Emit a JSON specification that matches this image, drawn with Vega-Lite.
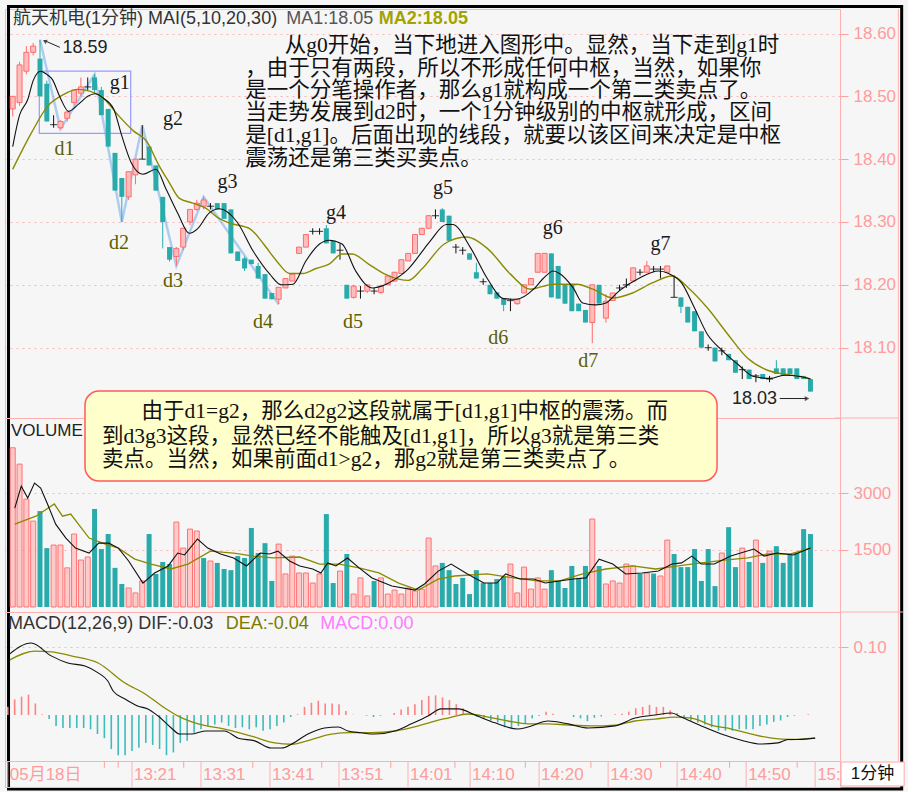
{
"$schema": "https://vega.github.io/schema/vega-lite/v6.json",
"padding": {"left": 4, "top": 4, "right": 2, "bottom": 2},
"background": "#f6f6f6",
"spacing": 0,
"bounds": "flush",
"config": {
  "view": {"stroke": "#ffb0b0", "strokeWidth": 1},
  "concat": {"spacing": 0},
  "axis": {"labelFont": "Liberation Sans", "labelFontSize": 17, "labelColor": "#ff9c9c", "tickColor": "#ffa0a0", "tickSize": 8, "labelPadding": 5, "domain": false, "gridColor": "#ffb4b4", "gridDash": [2, 4], "gridWidth": 1}
},
"datasets": {
"candles": [
{"i":0,"o":18.48,"h":18.5,"l":18.468,"c":18.5,"d":"up","v":4190,"vd":"up","m":0.012},
{"i":1,"o":18.49,"h":18.555,"l":18.485,"c":18.55,"d":"up","v":3760,"vd":"up","m":0.023},
{"i":2,"o":18.54,"h":18.58,"l":18.535,"c":18.57,"d":"up","v":2840,"vd":"up","m":0.027},
{"i":3,"o":18.57,"h":18.585,"l":18.565,"c":18.58,"d":"up","v":2260,"vd":"up","m":0.03},
{"i":4,"o":18.56,"h":18.59,"l":18.5,"c":18.5,"d":"down","v":2525,"vd":"down","m":0.017},
{"i":5,"o":18.52,"h":18.525,"l":18.46,"c":18.46,"d":"down","v":1550,"vd":"down","m":0.001},
{"i":6,"o":18.455,"h":18.47,"l":18.45,"c":18.455,"d":"flat","v":1630,"vd":"up","m":-0.006},
{"i":7,"o":18.45,"h":18.462,"l":18.448,"c":18.46,"d":"up","v":1630,"vd":"up","m":-0.016},
{"i":8,"o":18.465,"h":18.478,"l":18.46,"c":18.475,"d":"up","v":1030,"vd":"up","m":-0.019},
{"i":9,"o":18.49,"h":18.51,"l":18.485,"c":18.51,"d":"up","v":1920,"vd":"up","m":-0.019},
{"i":10,"o":18.505,"h":18.53,"l":18.5,"c":18.515,"d":"up","v":1235,"vd":"up","m":-0.019},
{"i":11,"o":18.515,"h":18.53,"l":18.51,"c":18.515,"d":"flat","v":1315,"vd":"up","m":-0.019},
{"i":12,"o":18.53,"h":18.535,"l":18.505,"c":18.51,"d":"down","v":2580,"vd":"down","m":-0.021},
{"i":13,"o":18.51,"h":18.515,"l":18.47,"c":18.47,"d":"down","v":1525,"vd":"down","m":-0.028},
{"i":14,"o":18.48,"h":18.48,"l":18.42,"c":18.42,"d":"down","v":1920,"vd":"down","m":-0.034},
{"i":15,"o":18.41,"h":18.41,"l":18.35,"c":18.35,"d":"down","v":1030,"vd":"down","m":-0.05},
{"i":16,"o":18.37,"h":18.37,"l":18.3,"c":18.34,"d":"down","v":605,"vd":"down","m":-0.059},
{"i":17,"o":18.34,"h":18.38,"l":18.335,"c":18.38,"d":"up","v":500,"vd":"up","m":-0.059},
{"i":18,"o":18.375,"h":18.4,"l":18.36,"c":18.4,"d":"up","v":370,"vd":"up","m":-0.053},
{"i":19,"o":18.4,"h":18.454,"l":18.4,"c":18.4,"d":"flat","v":685,"vd":"up","m":-0.048},
{"i":20,"o":18.42,"h":18.42,"l":18.39,"c":18.39,"d":"down","v":1920,"vd":"down","m":-0.041},
{"i":21,"o":18.39,"h":18.39,"l":18.35,"c":18.35,"d":"down","v":870,"vd":"down","m":-0.044},
{"i":22,"o":18.34,"h":18.34,"l":18.258,"c":18.3,"d":"down","v":1185,"vd":"down","m":-0.05},
{"i":23,"o":18.26,"h":18.26,"l":18.237,"c":18.24,"d":"down","v":1130,"vd":"down","m":-0.059},
{"i":24,"o":18.245,"h":18.26,"l":18.23,"c":18.258,"d":"up","v":2235,"vd":"up","m":-0.055},
{"i":25,"o":18.26,"h":18.29,"l":18.255,"c":18.29,"d":"up","v":1550,"vd":"up","m":-0.041},
{"i":26,"o":18.3,"h":18.32,"l":18.295,"c":18.32,"d":"up","v":2050,"vd":"up","m":-0.038},
{"i":27,"o":18.32,"h":18.335,"l":18.318,"c":18.33,"d":"up","v":2000,"vd":"up","m":-0.026},
{"i":28,"o":18.325,"h":18.34,"l":18.32,"c":18.335,"d":"up","v":1290,"vd":"down","m":-0.021},
{"i":29,"o":18.325,"h":18.33,"l":18.32,"c":18.325,"d":"flat","v":1210,"vd":"up","m":-0.016},
{"i":30,"o":18.33,"h":18.33,"l":18.32,"c":18.32,"d":"down","v":1160,"vd":"down","m":-0.014},
{"i":31,"o":18.33,"h":18.33,"l":18.305,"c":18.305,"d":"down","v":1000,"vd":"down","m":-0.011},
{"i":32,"o":18.32,"h":18.32,"l":18.25,"c":18.25,"d":"down","v":970,"vd":"down","m":-0.016},
{"i":33,"o":18.253,"h":18.253,"l":18.238,"c":18.238,"d":"down","v":1340,"vd":"down","m":-0.019},
{"i":34,"o":18.242,"h":18.245,"l":18.222,"c":18.226,"d":"down","v":1290,"vd":"down","m":-0.018},
{"i":35,"o":18.24,"h":18.24,"l":18.233,"c":18.233,"d":"down","v":2080,"vd":"down","m":-0.021},
{"i":36,"o":18.23,"h":18.235,"l":18.21,"c":18.21,"d":"down","v":1420,"vd":"down","m":-0.018},
{"i":37,"o":18.217,"h":18.217,"l":18.178,"c":18.178,"d":"down","v":1680,"vd":"down","m":-0.023},
{"i":38,"o":18.187,"h":18.187,"l":18.177,"c":18.177,"d":"down","v":685,"vd":"down","m":-0.021},
{"i":39,"o":18.177,"h":18.196,"l":18.169,"c":18.196,"d":"up","v":1655,"vd":"up","m":-0.016},
{"i":40,"o":18.195,"h":18.21,"l":18.195,"c":18.21,"d":"up","v":870,"vd":"up","m":-0.011},
{"i":41,"o":18.206,"h":18.217,"l":18.206,"c":18.217,"d":"up","v":1340,"vd":"up","m":-0.003},
{"i":42,"o":18.25,"h":18.26,"l":18.25,"c":18.26,"d":"up","v":895,"vd":"up","m":0.001},
{"i":43,"o":18.26,"h":18.28,"l":18.26,"c":18.28,"d":"up","v":895,"vd":"up","m":0.012},
{"i":44,"o":18.285,"h":18.29,"l":18.28,"c":18.285,"d":"flat","v":630,"vd":"up","m":0.018},
{"i":45,"o":18.285,"h":18.29,"l":18.28,"c":18.285,"d":"flat","v":870,"vd":"up","m":0.021},
{"i":46,"o":18.29,"h":18.295,"l":18.266,"c":18.266,"d":"down","v":2445,"vd":"down","m":0.017},
{"i":47,"o":18.27,"h":18.27,"l":18.25,"c":18.25,"d":"down","v":630,"vd":"down","m":0.017},
{"i":48,"o":18.255,"h":18.265,"l":18.24,"c":18.255,"d":"flat","v":945,"vd":"up","m":0.016},
{"i":49,"o":18.2,"h":18.2,"l":18.178,"c":18.178,"d":"down","v":1395,"vd":"down","m":0.006},
{"i":50,"o":18.18,"h":18.2,"l":18.178,"c":18.198,"d":"up","v":340,"vd":"up","m":0.0005},
{"i":51,"o":18.19,"h":18.198,"l":18.178,"c":18.19,"d":"flat","v":765,"vd":"up","m":0},
{"i":52,"o":18.19,"h":18.2,"l":18.187,"c":18.2,"d":"up","v":290,"vd":"up","m":-0.001},
{"i":53,"o":18.19,"h":18.195,"l":18.185,"c":18.19,"d":"flat","v":685,"vd":"down","m":-0.003},
{"i":54,"o":18.188,"h":18.2,"l":18.185,"c":18.198,"d":"up","v":765,"vd":"up","m":-0.001},
{"i":55,"o":18.2,"h":18.214,"l":18.2,"c":18.214,"d":"up","v":340,"vd":"up","m":0},
{"i":56,"o":18.206,"h":18.22,"l":18.205,"c":18.22,"d":"up","v":445,"vd":"up","m":0.003},
{"i":57,"o":18.218,"h":18.24,"l":18.218,"c":18.24,"d":"up","v":340,"vd":"up","m":0.008},
{"i":58,"o":18.238,"h":18.25,"l":18.238,"c":18.25,"d":"up","v":500,"vd":"up","m":0.012},
{"i":59,"o":18.25,"h":18.28,"l":18.25,"c":18.28,"d":"up","v":420,"vd":"up","m":0.016},
{"i":60,"o":18.28,"h":18.29,"l":18.28,"c":18.29,"d":"up","v":470,"vd":"up","m":0.022},
{"i":61,"o":18.29,"h":18.31,"l":18.29,"c":18.31,"d":"up","v":1815,"vd":"up","m":0.028},
{"i":62,"o":18.31,"h":18.32,"l":18.305,"c":18.31,"d":"flat","v":1080,"vd":"up","m":0.029},
{"i":63,"o":18.32,"h":18.322,"l":18.3,"c":18.3,"d":"down","v":1160,"vd":"down","m":0.026},
{"i":64,"o":18.31,"h":18.31,"l":18.27,"c":18.27,"d":"down","v":970,"vd":"down","m":0.022},
{"i":65,"o":18.26,"h":18.265,"l":18.25,"c":18.26,"d":"flat","v":605,"vd":"down","m":0.016},
{"i":66,"o":18.255,"h":18.26,"l":18.248,"c":18.255,"d":"flat","v":765,"vd":"down","m":0.01},
{"i":67,"o":18.25,"h":18.25,"l":18.24,"c":18.24,"d":"down","v":340,"vd":"down","m":0.003},
{"i":68,"o":18.22,"h":18.235,"l":18.21,"c":18.21,"d":"down","v":970,"vd":"down","m":-0.003},
{"i":69,"o":18.205,"h":18.21,"l":18.2,"c":18.205,"d":"flat","v":630,"vd":"down","m":-0.005},
{"i":70,"o":18.2,"h":18.2,"l":18.185,"c":18.185,"d":"down","v":630,"vd":"down","m":-0.008},
{"i":71,"o":18.188,"h":18.188,"l":18.178,"c":18.178,"d":"down","v":735,"vd":"down","m":-0.011},
{"i":72,"o":18.178,"h":18.178,"l":18.158,"c":18.168,"d":"down","v":815,"vd":"down","m":-0.018},
{"i":73,"o":18.175,"h":18.178,"l":18.158,"c":18.175,"d":"flat","v":1130,"vd":"up","m":-0.02},
{"i":74,"o":18.17,"h":18.177,"l":18.168,"c":18.177,"d":"up","v":370,"vd":"up","m":-0.016},
{"i":75,"o":18.187,"h":18.2,"l":18.187,"c":18.2,"d":"up","v":1050,"vd":"up","m":-0.013},
{"i":76,"o":18.2,"h":18.21,"l":18.2,"c":18.21,"d":"up","v":470,"vd":"up","m":-0.005},
{"i":77,"o":18.22,"h":18.25,"l":18.22,"c":18.25,"d":"up","v":765,"vd":"up","m":-0.001},
{"i":78,"o":18.22,"h":18.25,"l":18.22,"c":18.25,"d":"up","v":470,"vd":"up","m":0.005},
{"i":79,"o":18.25,"h":18.25,"l":18.18,"c":18.18,"d":"down","v":970,"vd":"down","m":0.002},
{"i":80,"o":18.23,"h":18.23,"l":18.178,"c":18.178,"d":"down","v":685,"vd":"down","m":0},
{"i":81,"o":18.2,"h":18.2,"l":18.17,"c":18.17,"d":"down","v":500,"vd":"down","m":0},
{"i":82,"o":18.2,"h":18.2,"l":18.158,"c":18.158,"d":"down","v":1080,"vd":"down","m":-0.003},
{"i":83,"o":18.17,"h":18.17,"l":18.158,"c":18.158,"d":"down","v":765,"vd":"down","m":-0.005},
{"i":84,"o":18.16,"h":18.16,"l":18.14,"c":18.14,"d":"down","v":1080,"vd":"down","m":-0.009},
{"i":85,"o":18.14,"h":18.2,"l":18.107,"c":18.2,"d":"up","v":2315,"vd":"up","m":-0.004},
{"i":86,"o":18.2,"h":18.2,"l":18.17,"c":18.17,"d":"down","v":1080,"vd":"down","m":-0.002},
{"i":87,"o":18.147,"h":18.185,"l":18.14,"c":18.174,"d":"up","v":605,"vd":"up","m":0},
{"i":88,"o":18.175,"h":18.187,"l":18.175,"c":18.187,"d":"up","v":685,"vd":"up","m":0.001},
{"i":89,"o":18.195,"h":18.2,"l":18.19,"c":18.195,"d":"flat","v":630,"vd":"up","m":0.002},
{"i":90,"o":18.2,"h":18.21,"l":18.195,"c":18.2,"d":"flat","v":1130,"vd":"up","m":0.005},
{"i":91,"o":18.206,"h":18.227,"l":18.206,"c":18.227,"d":"up","v":1080,"vd":"up","m":0.01},
{"i":92,"o":18.22,"h":18.225,"l":18.215,"c":18.22,"d":"flat","v":870,"vd":"down","m":0.012},
{"i":93,"o":18.22,"h":18.238,"l":18.22,"c":18.23,"d":"up","v":895,"vd":"up","m":0.015},
{"i":94,"o":18.225,"h":18.23,"l":18.22,"c":18.225,"d":"flat","v":880,"vd":"down","m":0.012},
{"i":95,"o":18.225,"h":18.23,"l":18.21,"c":18.225,"d":"flat","v":815,"vd":"up","m":0.012},
{"i":96,"o":18.22,"h":18.23,"l":18.22,"c":18.23,"d":"up","v":1760,"vd":"up","m":0.007},
{"i":97,"o":18.18,"h":18.215,"l":18.18,"c":18.18,"d":"flat","v":1395,"vd":"down","m":0.003},
{"i":98,"o":18.18,"h":18.18,"l":18.155,"c":18.165,"d":"down","v":1050,"vd":"down","m":-0.005},
{"i":99,"o":18.165,"h":18.165,"l":18.14,"c":18.14,"d":"down","v":1050,"vd":"down","m":-0.008},
{"i":100,"o":18.158,"h":18.158,"l":18.126,"c":18.126,"d":"down","v":1525,"vd":"down","m":-0.011},
{"i":101,"o":18.126,"h":18.126,"l":18.1,"c":18.1,"d":"down","v":685,"vd":"down","m":-0.014},
{"i":102,"o":18.1,"h":18.105,"l":18.095,"c":18.1,"d":"flat","v":1525,"vd":"down","m":-0.018},
{"i":103,"o":18.1,"h":18.1,"l":18.078,"c":18.078,"d":"down","v":550,"vd":"down","m":-0.023},
{"i":104,"o":18.095,"h":18.1,"l":18.088,"c":18.095,"d":"flat","v":1420,"vd":"up","m":-0.023},
{"i":105,"o":18.09,"h":18.09,"l":18.08,"c":18.08,"d":"down","v":2100,"vd":"down","m":-0.023},
{"i":106,"o":18.08,"h":18.08,"l":18.06,"c":18.06,"d":"down","v":1050,"vd":"down","m":-0.021},
{"i":107,"o":18.065,"h":18.07,"l":18.05,"c":18.065,"d":"flat","v":1550,"vd":"up","m":-0.021},
{"i":108,"o":18.065,"h":18.065,"l":18.05,"c":18.05,"d":"down","v":1185,"vd":"down","m":-0.021},
{"i":109,"o":18.055,"h":18.058,"l":18.045,"c":18.055,"d":"flat","v":1760,"vd":"up","m":-0.016},
{"i":110,"o":18.058,"h":18.058,"l":18.05,"c":18.05,"d":"down","v":1160,"vd":"down","m":-0.014},
{"i":111,"o":18.05,"h":18.055,"l":18.045,"c":18.05,"d":"flat","v":1470,"vd":"up","m":-0.01},
{"i":112,"o":18.067,"h":18.08,"l":18.058,"c":18.058,"d":"down","v":1600,"vd":"down","m":-0.008},
{"i":113,"o":18.067,"h":18.067,"l":18.055,"c":18.055,"d":"down","v":1160,"vd":"down","m":-0.003},
{"i":114,"o":18.067,"h":18.067,"l":18.058,"c":18.058,"d":"down","v":1395,"vd":"down","m":-0.001},
{"i":115,"o":18.067,"h":18.067,"l":18.05,"c":18.05,"d":"down","v":1420,"vd":"down","m":0},
{"i":116,"o":18.055,"h":18.055,"l":18.05,"c":18.05,"d":"down","v":2050,"vd":"down","m":0.001},
{"i":117,"o":18.05,"h":18.05,"l":18.03,"c":18.03,"d":"down","v":1920,"vd":"down","m":0}
],
"ma1": [
{"i":0,"p":18.42},{"i":1,"p":18.47},{"i":2.2,"p":18.495},{"i":3,"p":18.525},{"i":4.1,"p":18.54},{"i":5,"p":18.535},{"i":5.8,"p":18.527},{"i":7,"p":18.497},{"i":8.2,"p":18.476},{"i":9.7,"p":18.488},{"i":11,"p":18.5},{"i":12.1,"p":18.504},{"i":13.3,"p":18.497},{"i":14.8,"p":18.48},{"i":16,"p":18.437},{"i":17.4,"p":18.394},{"i":19.1,"p":18.376},{"i":21,"p":18.384},{"i":22.5,"p":18.352},{"i":24.2,"p":18.314},{"i":25.9,"p":18.282},{"i":27.1,"p":18.289},{"i":28.8,"p":18.314},{"i":30.3,"p":18.321},{"i":32.9,"p":18.3},{"i":35.3,"p":18.253},{"i":37.7,"p":18.217},{"i":39.4,"p":18.2},{"i":41.1,"p":18.201},{"i":43,"p":18.238},{"i":45,"p":18.265},{"i":46.4,"p":18.271},{"i":48.3,"p":18.265},{"i":50.3,"p":18.222},{"i":52.7,"p":18.195},{"i":54.6,"p":18.2},{"i":56.1,"p":18.209},{"i":58,"p":18.225},{"i":60.4,"p":18.258},{"i":61.4,"p":18.272},{"i":63.6,"p":18.296},{"i":64.5,"p":18.296},{"i":67.2,"p":18.258},{"i":69.6,"p":18.21},{"i":72,"p":18.178},{"i":73.9,"p":18.177},{"i":76.4,"p":18.193},{"i":77.8,"p":18.21},{"i":79.3,"p":18.222},{"i":80.2,"p":18.218},{"i":82.2,"p":18.195},{"i":83.6,"p":18.171},{"i":85.5,"p":18.168},{"i":87,"p":18.171},{"i":88.9,"p":18.19},{"i":91.8,"p":18.21},{"i":94.7,"p":18.222},{"i":96.2,"p":18.218},{"i":98.1,"p":18.203},{"i":100,"p":18.163},{"i":101.9,"p":18.121},{"i":103.9,"p":18.097},{"i":106.3,"p":18.074},{"i":108.7,"p":18.054},{"i":111.2,"p":18.051},{"i":113.1,"p":18.056},{"i":115.5,"p":18.054},{"i":117,"p":18.05}
],
"ma2": [
{"i":0,"p":18.384},{"i":2.7,"p":18.441},{"i":5.1,"p":18.484},{"i":7.5,"p":18.503},{"i":9.5,"p":18.511},{"i":11.4,"p":18.508},{"i":13.3,"p":18.497},{"i":15.3,"p":18.472},{"i":17.7,"p":18.445},{"i":19.6,"p":18.429},{"i":21.5,"p":18.389},{"i":23,"p":18.362},{"i":24.4,"p":18.338},{"i":26.4,"p":18.33},{"i":28.3,"p":18.322},{"i":30.2,"p":18.306},{"i":31.9,"p":18.298},{"i":34.8,"p":18.289},{"i":36.8,"p":18.265},{"i":38.7,"p":18.238},{"i":40.6,"p":18.218},{"i":42.5,"p":18.218},{"i":44.5,"p":18.226},{"i":46.4,"p":18.233},{"i":48.3,"p":18.249},{"i":49.8,"p":18.249},{"i":52.2,"p":18.233},{"i":54.6,"p":18.217},{"i":56.6,"p":18.209},{"i":58,"p":18.207},{"i":60,"p":18.225},{"i":63.3,"p":18.265},{"i":66.5,"p":18.276},{"i":69.6,"p":18.258},{"i":73,"p":18.217},{"i":75.9,"p":18.193},{"i":79.3,"p":18.201},{"i":82.7,"p":18.201},{"i":85.1,"p":18.193},{"i":88,"p":18.179},{"i":90.9,"p":18.187},{"i":93.8,"p":18.203},{"i":96.7,"p":18.214},{"i":99.1,"p":18.195},{"i":101.9,"p":18.163},{"i":104.9,"p":18.121},{"i":107.8,"p":18.083},{"i":110.7,"p":18.064},{"i":113.1,"p":18.058},{"i":115.5,"p":18.054},{"i":117,"p":18.05}
],
"vma1": [
{"i":0.3,"v":2600},{"i":1.25,"v":3180},{"i":2.2,"v":2870},{"i":3.2,"v":3260},{"i":4.1,"v":3130},{"i":5.1,"v":2710},{"i":6.3,"v":2180},{"i":7.8,"v":1815},{"i":9.2,"v":1550},{"i":11.2,"v":1420},{"i":12.6,"v":1680},{"i":14.1,"v":1680},{"i":15.5,"v":1550},{"i":17,"v":1210},{"i":19.1,"v":630},{"i":20.8,"v":895},{"i":22.8,"v":1080},{"i":24.2,"v":1420},{"i":25.2,"v":1370},{"i":27.1,"v":1790},{"i":28.6,"v":1550},{"i":30.5,"v":1395},{"i":32.4,"v":1290},{"i":34.3,"v":1080},{"i":36.3,"v":1420},{"i":37.7,"v":1395},{"i":38.9,"v":1470},{"i":40.6,"v":1210},{"i":42.1,"v":1080},{"i":44,"v":1000},{"i":45.2,"v":895},{"i":46.2,"v":1160},{"i":47.4,"v":1080},{"i":49.1,"v":1290},{"i":50.8,"v":1030},{"i":52.7,"v":765},{"i":55.6,"v":550},{"i":59,"v":445},{"i":60.4,"v":605},{"i":62.4,"v":945},{"i":64.3,"v":1130},{"i":66.7,"v":870},{"i":69.1,"v":630},{"i":71,"v":630},{"i":72.3,"v":870},{"i":74.4,"v":735},{"i":76.4,"v":735},{"i":78.1,"v":630},{"i":80.2,"v":685},{"i":82.2,"v":735},{"i":84.1,"v":765},{"i":86,"v":1260},{"i":88,"v":1130},{"i":89.9,"v":870},{"i":92.3,"v":895},{"i":94.7,"v":945},{"i":96.7,"v":1130},{"i":98.1,"v":1160},{"i":99.6,"v":1340},{"i":101,"v":1130},{"i":102.9,"v":1130},{"i":105.3,"v":1340},{"i":108.7,"v":1525},{"i":110.2,"v":1340},{"i":112.1,"v":1420},{"i":114.5,"v":1370},{"i":117,"v":1550}
],
"vma2": [
{"i":0.3,"v":2180},{"i":3.4,"v":2390},{"i":6.1,"v":2710},{"i":7.3,"v":2390},{"i":8.5,"v":2445},{"i":11.2,"v":1815},{"i":13.6,"v":1655},{"i":15.5,"v":1550},{"i":17.9,"v":1260},{"i":20.3,"v":1130},{"i":23.2,"v":1000},{"i":25.7,"v":1130},{"i":29,"v":1470},{"i":32.4,"v":1420},{"i":35.3,"v":1340},{"i":38.2,"v":1290},{"i":42.1,"v":1315},{"i":45,"v":1130},{"i":47.9,"v":1130},{"i":50.8,"v":1030},{"i":53.7,"v":895},{"i":56.6,"v":630},{"i":59.5,"v":445},{"i":62.4,"v":735},{"i":64.8,"v":815},{"i":69.6,"v":870},{"i":73.5,"v":765},{"i":76.9,"v":685},{"i":80.2,"v":685},{"i":83.6,"v":870},{"i":87,"v":1000},{"i":90.9,"v":1080},{"i":94.3,"v":1000},{"i":97.6,"v":1080},{"i":101,"v":1160},{"i":104.4,"v":1235},{"i":107.8,"v":1290},{"i":110.7,"v":1395},{"i":114.1,"v":1395},{"i":117,"v":1550}
],
"dif": [
{"i":0.3,"m":0.09},{"i":3.4,"m":0.106},{"i":6.3,"m":0.087},{"i":8.7,"m":0.0765},{"i":11.2,"m":0.072},{"i":13.1,"m":0.062},{"i":14.5,"m":0.05},{"i":15.3,"m":0.035},{"i":17,"m":0.0235},{"i":18.9,"m":0.013},{"i":20.3,"m":0.009},{"i":21.8,"m":-0.0015},{"i":23.7,"m":-0.019},{"i":24.9,"m":-0.028},{"i":26.6,"m":-0.028},{"i":28.6,"m":-0.0235},{"i":31.4,"m":-0.0235},{"i":33.4,"m":-0.034},{"i":35.8,"m":-0.038},{"i":38.2,"m":-0.0485},{"i":39.7,"m":-0.0485},{"i":41.1,"m":-0.043},{"i":43.5,"m":-0.028},{"i":45.9,"m":-0.019},{"i":47.9,"m":-0.0176},{"i":49.3,"m":-0.0235},{"i":51.2,"m":-0.026},{"i":53.2,"m":-0.028},{"i":56.1,"m":-0.0235},{"i":58.5,"m":-0.013},{"i":60.9,"m":-0.0015},{"i":62.8,"m":0.009},{"i":65.3,"m":0.009},{"i":67.7,"m":0},{"i":70.6,"m":-0.0115},{"i":73.9,"m":-0.0206},{"i":75.4,"m":-0.0176},{"i":78.3,"m":-0.0088},{"i":81.2,"m":-0.013},{"i":84.1,"m":-0.019},{"i":88,"m":-0.016},{"i":90.9,"m":-0.0044},{"i":93.8,"m":0},{"i":96.2,"m":0.003},{"i":97.6,"m":-0.003},{"i":100.5,"m":-0.016},{"i":103.4,"m":-0.028},{"i":106.3,"m":-0.037},{"i":109.2,"m":-0.0426},{"i":111.6,"m":-0.041},{"i":113.1,"m":-0.036},{"i":114.5,"m":-0.036},{"i":117,"m":-0.034}
],
"dea": [
{"i":0.3,"m":0.081},{"i":3.9,"m":0.094},{"i":6.3,"m":0.093},{"i":9.2,"m":0.087},{"i":13.1,"m":0.0765},{"i":17,"m":0.047},{"i":19.9,"m":0.031},{"i":22.8,"m":0.01},{"i":24.7,"m":-0.0015},{"i":27.6,"m":-0.013},{"i":31.4,"m":-0.0206},{"i":35.3,"m":-0.031},{"i":38.7,"m":-0.041},{"i":41.1,"m":-0.043},{"i":44,"m":-0.036},{"i":46.9,"m":-0.028},{"i":49.8,"m":-0.026},{"i":52.7,"m":-0.026},{"i":56.1,"m":-0.0235},{"i":59.5,"m":-0.016},{"i":60.9,"m":-0.012},{"i":62.4,"m":-0.0074},{"i":63.8,"m":-0.0044},{"i":66.7,"m":0.0015},{"i":69.6,"m":-0.003},{"i":72.5,"m":-0.0088},{"i":75.4,"m":-0.013},{"i":78.3,"m":-0.013},{"i":81.2,"m":-0.0147},{"i":84.6,"m":-0.016},{"i":88,"m":-0.0147},{"i":90.9,"m":-0.0088},{"i":93.8,"m":-0.006},{"i":96.7,"m":-0.003},{"i":99.1,"m":-0.0044},{"i":101.9,"m":-0.0147},{"i":104.9,"m":-0.0206},{"i":107.8,"m":-0.028},{"i":110.7,"m":-0.034},{"i":113.6,"m":-0.036},{"i":117,"m":-0.034}
],
"times": [
{"i":0,"t":"05月18日"},{"i":18,"t":"13:21"},{"i":28,"t":"13:31"},{"i":38,"t":"13:41"},{"i":48,"t":"13:51"},{"i":58,"t":"14:01"},{"i":67,"t":"14:10"},{"i":77,"t":"14:20"},{"i":87,"t":"14:30"},{"i":97,"t":"14:40"},{"i":107,"t":"14:50"},{"i":117,"t":"15:00"}
]
},
"vconcat": [
{
 "width": 835, "height": 409,
 "encoding": {"x": {"field": "i", "type": "quantitative", "scale": {"domain": [-0.4, 120.6], "nice": false, "zero": false}, "axis": null}},
 "layer": [
  {"data": {"values": [{"i":-0.617,"i2":130.38,"p":18.643,"p2":17.3975}]},
   "mark": {"type": "rect", "filled": false, "stroke": "#000000", "strokeWidth": 3, "clip": false},
   "encoding": {"x2": {"field": "i2"}, "y": {"field": "p", "type": "quantitative", "scale": {"domain": [17.988, 18.639], "nice": false, "zero": false}, "axis": {"orient": "right", "values": [18.1, 18.2, 18.3, 18.4, 18.5, 18.6], "format": ".2f", "grid": true, "title": null}}, "y2": {"field": "p2"}}},
  {"data": {"values": [{"i":129.9,"p":18.639,"p2":17.442}]},
   "mark": {"type": "rule", "color": "#ffb0b0", "strokeWidth": 1, "clip": false},
   "encoding": {"y": {"field": "p", "type": "quantitative", "scale": {"domain": [17.988, 18.639], "nice": false, "zero": false}, "axis": {"orient": "right", "values": [18.1, 18.2, 18.3, 18.4, 18.5, 18.6], "format": ".2f", "grid": true, "title": null}}, "y2": {"field": "p2"}}},
  {"data": {"values": [{"i":4,"p":18.59},{"i":7,"p":18.448},{"i":12,"p":18.535},{"i":16,"p":18.3},{"i":19,"p":18.454},{"i":24,"p":18.23},{"i":28,"p":18.34},{"i":39,"p":18.169}]},
   "mark": {"type": "line", "color": "#7fb0ee", "opacity": 0.6, "strokeWidth": 2.5},
   "encoding": {"y": {"field": "p", "type": "quantitative", "scale": {"domain": [17.988, 18.639], "nice": false, "zero": false}, "axis": {"orient": "right", "values": [18.1, 18.2, 18.3, 18.4, 18.5, 18.6], "format": ".2f", "grid": true, "title": null}}}},
  {"data": {"values": [{"i":3.9,"i2":17.3,"p":18.54,"p2":18.441}]},
   "mark": {"type": "rect", "filled": false, "stroke": "#9a9aff", "strokeWidth": 1.2},
   "encoding": {"x2": {"field": "i2"}, "y": {"field": "p", "type": "quantitative", "scale": {"domain": [17.988, 18.639], "nice": false, "zero": false}, "axis": {"orient": "right", "values": [18.1, 18.2, 18.3, 18.4, 18.5, 18.6], "format": ".2f", "grid": true, "title": null}}, "y2": {"field": "p2"}}},
  {"data": {"name": "candles"}, "transform": [{"filter": "datum.d === 'up'"}],
   "mark": {"type": "rule", "color": "#ff6b6b", "strokeWidth": 1},
   "encoding": {"y": {"field": "l", "type": "quantitative", "scale": {"domain": [17.988, 18.639], "nice": false, "zero": false}, "axis": {"orient": "right", "values": [18.1, 18.2, 18.3, 18.4, 18.5, 18.6], "format": ".2f", "grid": true, "title": null}}, "y2": {"field": "h"}}},
  {"data": {"name": "candles"}, "transform": [{"filter": "datum.d === 'down'"}],
   "mark": {"type": "rule", "color": "#2aabab", "strokeWidth": 1},
   "encoding": {"y": {"field": "l", "type": "quantitative", "scale": {"domain": [17.988, 18.639], "nice": false, "zero": false}, "axis": {"orient": "right", "values": [18.1, 18.2, 18.3, 18.4, 18.5, 18.6], "format": ".2f", "grid": true, "title": null}}, "y2": {"field": "h"}}},
  {"data": {"name": "candles"}, "transform": [{"filter": "datum.d === 'flat'"}],
   "mark": {"type": "rule", "color": "#111111", "strokeWidth": 1},
   "encoding": {"y": {"field": "l", "type": "quantitative", "scale": {"domain": [17.988, 18.639], "nice": false, "zero": false}, "axis": {"orient": "right", "values": [18.1, 18.2, 18.3, 18.4, 18.5, 18.6], "format": ".2f", "grid": true, "title": null}}, "y2": {"field": "h"}}},
  {"data": {"name": "candles"}, "transform": [{"filter": "datum.d === 'up'"}],
   "mark": {"type": "bar", "size": 5, "fill": "#ffbcbc", "stroke": "#ff6b6b", "strokeWidth": 1},
   "encoding": {"y": {"field": "o", "type": "quantitative", "scale": {"domain": [17.988, 18.639], "nice": false, "zero": false}, "axis": {"orient": "right", "values": [18.1, 18.2, 18.3, 18.4, 18.5, 18.6], "format": ".2f", "grid": true, "title": null}}, "y2": {"field": "c"}}},
  {"data": {"name": "candles"}, "transform": [{"filter": "datum.d === 'down'"}],
   "mark": {"type": "bar", "size": 5, "fill": "#2aabab"},
   "encoding": {"y": {"field": "o", "type": "quantitative", "scale": {"domain": [17.988, 18.639], "nice": false, "zero": false}, "axis": {"orient": "right", "values": [18.1, 18.2, 18.3, 18.4, 18.5, 18.6], "format": ".2f", "grid": true, "title": null}}, "y2": {"field": "c"}}},
  {"data": {"name": "candles"}, "transform": [{"filter": "datum.d === 'flat'"}],
   "mark": {"type": "tick", "orient": "horizontal", "size": 7, "thickness": 1.2, "color": "#111111"},
   "encoding": {"y": {"field": "c", "type": "quantitative", "scale": {"domain": [17.988, 18.639], "nice": false, "zero": false}, "axis": {"orient": "right", "values": [18.1, 18.2, 18.3, 18.4, 18.5, 18.6], "format": ".2f", "grid": true, "title": null}}}},
  {"data": {"name": "ma2"},
   "mark": {"type": "line", "color": "#8a8a00", "strokeWidth": 1.4, "interpolate": "monotone"},
   "encoding": {"y": {"field": "p", "type": "quantitative", "scale": {"domain": [17.988, 18.639], "nice": false, "zero": false}, "axis": {"orient": "right", "values": [18.1, 18.2, 18.3, 18.4, 18.5, 18.6], "format": ".2f", "grid": true, "title": null}}}},
  {"data": {"name": "ma1"},
   "mark": {"type": "line", "color": "#111111", "strokeWidth": 1.1, "interpolate": "monotone"},
   "encoding": {"y": {"field": "p", "type": "quantitative", "scale": {"domain": [17.988, 18.639], "nice": false, "zero": false}, "axis": {"orient": "right", "values": [18.1, 18.2, 18.3, 18.4, 18.5, 18.6], "format": ".2f", "grid": true, "title": null}}}},
  {"data": {"values": [{"i":15.7,"p":18.521,"t":"g1"},{"i":23.5,"p":18.464,"t":"g2"},{"i":31.5,"p":18.363,"t":"g3"},{"i":47.4,"p":18.314,"t":"g4"},{"i":63.1,"p":18.354,"t":"g5"},{"i":79.2,"p":18.291,"t":"g6"},{"i":95,"p":18.265,"t":"g7"}]},
   "mark": {"type": "text", "align": "center", "baseline": "middle", "font": "Liberation Serif", "fontSize": 20, "color": "#1a1a1a"},
   "encoding": {"y": {"field": "p", "type": "quantitative", "scale": {"domain": [17.988, 18.639], "nice": false, "zero": false}, "axis": {"orient": "right", "values": [18.1, 18.2, 18.3, 18.4, 18.5, 18.6], "format": ".2f", "grid": true, "title": null}}, "text": {"field": "t"}}},
  {"data": {"values": [{"i":7.6,"p":18.416,"t":"d1"},{"i":15.6,"p":18.266,"t":"d2"},{"i":23.5,"p":18.206,"t":"d3"},{"i":36.7,"p":18.141,"t":"d4"},{"i":49.9,"p":18.141,"t":"d5"},{"i":71.2,"p":18.116,"t":"d6"},{"i":84.4,"p":18.078,"t":"d7"}]},
   "mark": {"type": "text", "align": "center", "baseline": "middle", "font": "Liberation Serif", "fontSize": 20, "color": "#5e5e00"},
   "encoding": {"y": {"field": "p", "type": "quantitative", "scale": {"domain": [17.988, 18.639], "nice": false, "zero": false}, "axis": {"orient": "right", "values": [18.1, 18.2, 18.3, 18.4, 18.5, 18.6], "format": ".2f", "grid": true, "title": null}}, "text": {"field": "t"}}},
  {"data": {"values": [{"i":4.6,"p":18.589,"g":"a"},{"i":6.9,"p":18.578,"g":"a"},{"i":112.5,"p":18.019,"g":"b"},{"i":116.5,"p":18.019,"g":"b"}]},
   "mark": {"type": "line", "color": "#222222", "strokeWidth": 1},
   "encoding": {"detail": {"field": "g"}, "y": {"field": "p", "type": "quantitative", "scale": {"domain": [17.988, 18.639], "nice": false, "zero": false}, "axis": {"orient": "right", "values": [18.1, 18.2, 18.3, 18.4, 18.5, 18.6], "format": ".2f", "grid": true, "title": null}}}},
  {"data": {"values": [{"i":116.5,"p":18.019}]},
   "mark": {"type": "point", "shape": "triangle-right", "filled": true, "size": 28, "color": "#222222"},
   "encoding": {"y": {"field": "p", "type": "quantitative", "scale": {"domain": [17.988, 18.639], "nice": false, "zero": false}, "axis": {"orient": "right", "values": [18.1, 18.2, 18.3, 18.4, 18.5, 18.6], "format": ".2f", "grid": true, "title": null}}}},
  {"data": {"values": [{"i":4.7,"p":18.588}]},
   "mark": {"type": "point", "shape": "triangle-left", "filled": true, "size": 24, "angle": 25, "color": "#222222"},
   "encoding": {"y": {"field": "p", "type": "quantitative", "scale": {"domain": [17.988, 18.639], "nice": false, "zero": false}, "axis": {"orient": "right", "values": [18.1, 18.2, 18.3, 18.4, 18.5, 18.6], "format": ".2f", "grid": true, "title": null}}}},
  {"data": {"values": [{"i":7.3,"p":18.577,"t":"18.59"},{"i":105.5,"p":18.019,"t":"18.03"}]},
   "mark": {"type": "text", "align": "left", "baseline": "middle", "font": "Liberation Sans", "fontSize": 18, "color": "#222222"},
   "encoding": {"y": {"field": "p", "type": "quantitative", "scale": {"domain": [17.988, 18.639], "nice": false, "zero": false}, "axis": {"orient": "right", "values": [18.1, 18.2, 18.3, 18.4, 18.5, 18.6], "format": ".2f", "grid": true, "title": null}}, "text": {"field": "t"}}},
  {"data": {"values": [{"i":0.05,"p":18.623,"t":"航天机电(1分钟) MAI(5,10,20,30)"}]},
   "mark": {"type": "text", "align": "left", "baseline": "middle", "font": "Liberation Sans, Noto Sans CJK SC", "fontSize": 18, "color": "#333333"},
   "encoding": {"y": {"field": "p", "type": "quantitative", "scale": {"domain": [17.988, 18.639], "nice": false, "zero": false}, "axis": {"orient": "right", "values": [18.1, 18.2, 18.3, 18.4, 18.5, 18.6], "format": ".2f", "grid": true, "title": null}}, "text": {"field": "t"}}},
  {"data": {"values": [{"i":40.1,"p":18.623,"t":"MA1:18.05"}]},
   "mark": {"type": "text", "align": "left", "baseline": "middle", "font": "Liberation Sans", "fontSize": 18, "color": "#555555"},
   "encoding": {"y": {"field": "p", "type": "quantitative", "scale": {"domain": [17.988, 18.639], "nice": false, "zero": false}, "axis": {"orient": "right", "values": [18.1, 18.2, 18.3, 18.4, 18.5, 18.6], "format": ".2f", "grid": true, "title": null}}, "text": {"field": "t"}}},
  {"data": {"values": [{"i":53.7,"p":18.623,"t":"MA2:18.05"}]},
   "mark": {"type": "text", "align": "left", "baseline": "middle", "font": "Liberation Sans", "fontSize": 18, "fontWeight": "bold", "color": "#a3a300"},
   "encoding": {"y": {"field": "p", "type": "quantitative", "scale": {"domain": [17.988, 18.639], "nice": false, "zero": false}, "axis": {"orient": "right", "values": [18.1, 18.2, 18.3, 18.4, 18.5, 18.6], "format": ".2f", "grid": true, "title": null}}, "text": {"field": "t"}}},
  {"data": {"values": [
     {"i":39.9,"p":18.58,"t":"从g0开始，当下地进入图形中。显然，当下走到g1时"},
     {"i":34.1,"p":18.543,"t":"，由于只有两段，所以不形成任何中枢，当然，如果你"},
     {"i":34.1,"p":18.508,"t":"是一个分笔操作者，那么g1就构成一个第二类卖点了。"},
     {"i":34.1,"p":18.473,"t":"当走势发展到d2时，一个1分钟级别的中枢就形成，区间"},
     {"i":34.1,"p":18.437,"t":"是[d1,g1]。后面出现的线段，就要以该区间来决定是中枢"},
     {"i":34.1,"p":18.401,"t":"震荡还是第三类买卖点。"}]},
   "mark": {"type": "text", "align": "left", "baseline": "middle", "font": "Liberation Serif, Noto Sans CJK SC", "fontSize": 21.5, "color": "#111111"},
   "encoding": {"y": {"field": "p", "type": "quantitative", "scale": {"domain": [17.988, 18.639], "nice": false, "zero": false}, "axis": {"orient": "right", "values": [18.1, 18.2, 18.3, 18.4, 18.5, 18.6], "format": ".2f", "grid": true, "title": null}}, "text": {"field": "t"}}}
 ]
},
{
 "width": 835, "height": 194,
 "encoding": {"x": {"field": "i", "type": "quantitative", "scale": {"domain": [-0.4, 120.6], "nice": false, "zero": false}, "axis": null}},
 "layer": [
  {"data": {"values": [{"i":120.6,"i2":129.9,"v":4974}]},
   "mark": {"type": "rule", "color": "#ffb0b0", "strokeWidth": 1, "clip": false},
   "encoding": {"x2": {"field": "i2"}, "y": {"field": "v", "type": "quantitative", "scale": {"domain": [-132, 4974], "nice": false, "zero": false}, "axis": {"orient": "right", "values": [1500, 3000], "format": "d", "grid": true, "title": null}}}},
  {"data": {"name": "candles"}, "transform": [{"filter": "datum.vd === 'up'"}],
   "mark": {"type": "bar", "size": 5, "fill": "#ffcaca", "stroke": "#ff7272", "strokeWidth": 1},
   "encoding": {"y": {"field": "v", "type": "quantitative", "scale": {"domain": [-132, 4974], "nice": false, "zero": false}, "axis": {"orient": "right", "values": [1500, 3000], "format": "d", "grid": true, "title": null}}, "y2": {"datum": 0}}},
  {"data": {"name": "candles"}, "transform": [{"filter": "datum.vd === 'down'"}],
   "mark": {"type": "bar", "size": 5, "fill": "#2aabab"},
   "encoding": {"y": {"field": "v", "type": "quantitative", "scale": {"domain": [-132, 4974], "nice": false, "zero": false}, "axis": {"orient": "right", "values": [1500, 3000], "format": "d", "grid": true, "title": null}}, "y2": {"datum": 0}}},
  {"data": {"name": "vma2"},
   "mark": {"type": "line", "color": "#8a8a00", "strokeWidth": 1.3},
   "encoding": {"y": {"field": "v", "type": "quantitative", "scale": {"domain": [-132, 4974], "nice": false, "zero": false}, "axis": {"orient": "right", "values": [1500, 3000], "format": "d", "grid": true, "title": null}}}},
  {"data": {"name": "vma1"},
   "mark": {"type": "line", "color": "#111111", "strokeWidth": 1.1},
   "encoding": {"y": {"field": "v", "type": "quantitative", "scale": {"domain": [-132, 4974], "nice": false, "zero": false}, "axis": {"orient": "right", "values": [1500, 3000], "format": "d", "grid": true, "title": null}}}},
  {"data": {"values": [{"i":-0.25,"v":4632,"t":"VOLUME"}]},
   "mark": {"type": "text", "align": "left", "baseline": "middle", "font": "Liberation Sans", "fontSize": 17, "color": "#222222"},
   "encoding": {"y": {"field": "v", "type": "quantitative", "scale": {"domain": [-132, 4974], "nice": false, "zero": false}, "axis": {"orient": "right", "values": [1500, 3000], "format": "d", "grid": true, "title": null}}, "text": {"field": "t"}}},
  {"data": {"values": [{"i":10.6,"i2":103.3,"v":5684,"v2":3316}]},
   "mark": {"type": "rect", "fill": "#ffffcc", "stroke": "#ff5a5a", "strokeWidth": 1.5, "cornerRadius": 14, "clip": false},
   "encoding": {"x2": {"field": "i2"}, "y": {"field": "v", "type": "quantitative", "scale": {"domain": [-132, 4974], "nice": false, "zero": false}, "axis": {"orient": "right", "values": [1500, 3000], "format": "d", "grid": true, "title": null}}, "y2": {"field": "v2"}}},
  {"data": {"values": [
     {"i":18.9,"v":5132,"t":"由于d1=g2，那么d2g2这段就属于[d1,g1]中枢的震荡。而"},
     {"i":13.1,"v":4474,"t":"到d3g3这段，显然已经不能触及[d1,g1]，所以g3就是第三类"},
     {"i":13.1,"v":3868,"t":"卖点。当然，如果前面d1>g2，那g2就是第三类卖点了。"}]},
   "mark": {"type": "text", "align": "left", "baseline": "middle", "font": "Liberation Serif, Noto Sans CJK SC", "fontSize": 21.5, "color": "#111111", "clip": false},
   "encoding": {"y": {"field": "v", "type": "quantitative", "scale": {"domain": [-132, 4974], "nice": false, "zero": false}, "axis": {"orient": "right", "values": [1500, 3000], "format": "d", "grid": true, "title": null}}, "text": {"field": "t"}}}
 ]
},
{
 "width": 835, "height": 149,
 "encoding": {"x": {"field": "i", "type": "quantitative", "scale": {"domain": [-0.4, 120.6], "nice": false, "zero": false}, "axis": null}},
 "layer": [
  {"data": {"values": [{"i":120.6,"i2":129.9,"m":0.1515}]},
   "mark": {"type": "rule", "color": "#ffb0b0", "strokeWidth": 1, "clip": false},
   "encoding": {"x2": {"field": "i2"}, "y": {"field": "m", "type": "quantitative", "scale": {"domain": [-0.0676, 0.1515], "nice": false, "zero": false}, "axis": {"orient": "right", "values": [0.1], "format": ".2f", "grid": true, "title": null}}}},
  {"data": {"values": [{}]},
   "mark": {"type": "rule", "color": "#444444", "strokeDash": [1, 2], "strokeWidth": 1},
   "encoding": {"x": {"datum": 0.2, "type": "quantitative"}, "x2": {"datum": 120.6}, "y": {"datum": 0, "type": "quantitative", "scale": {"domain": [-0.0676, 0.1515], "nice": false, "zero": false}, "axis": {"orient": "right", "values": [0.1], "format": ".2f", "grid": true, "title": null}}}},
  {"data": {"name": "candles"}, "transform": [{"filter": "datum.m > 0"}],
   "mark": {"type": "rule", "color": "#ff8080", "strokeWidth": 1.6},
   "encoding": {"y": {"field": "m", "type": "quantitative", "scale": {"domain": [-0.0676, 0.1515], "nice": false, "zero": false}, "axis": {"orient": "right", "values": [0.1], "format": ".2f", "grid": true, "title": null}}, "y2": {"datum": 0}}},
  {"data": {"name": "candles"}, "transform": [{"filter": "datum.m < 0"}],
   "mark": {"type": "rule", "color": "#3cbcbc", "strokeWidth": 1.6},
   "encoding": {"y": {"field": "m", "type": "quantitative", "scale": {"domain": [-0.0676, 0.1515], "nice": false, "zero": false}, "axis": {"orient": "right", "values": [0.1], "format": ".2f", "grid": true, "title": null}}, "y2": {"datum": 0}}},
  {"data": {"name": "dea"},
   "mark": {"type": "line", "color": "#8a8a00", "strokeWidth": 1.3, "interpolate": "monotone"},
   "encoding": {"y": {"field": "m", "type": "quantitative", "scale": {"domain": [-0.0676, 0.1515], "nice": false, "zero": false}, "axis": {"orient": "right", "values": [0.1], "format": ".2f", "grid": true, "title": null}}}},
  {"data": {"name": "dif"},
   "mark": {"type": "line", "color": "#111111", "strokeWidth": 1.1, "interpolate": "monotone"},
   "encoding": {"y": {"field": "m", "type": "quantitative", "scale": {"domain": [-0.0676, 0.1515], "nice": false, "zero": false}, "axis": {"orient": "right", "values": [0.1], "format": ".2f", "grid": true, "title": null}}}},
  {"data": {"values": [{"i":0.05,"m":0.134,"t":"MACD(12,26,9) DIF:-0.03"}]},
   "mark": {"type": "text", "align": "left", "baseline": "middle", "font": "Liberation Sans", "fontSize": 18, "color": "#333333"},
   "encoding": {"y": {"field": "m", "type": "quantitative", "scale": {"domain": [-0.0676, 0.1515], "nice": false, "zero": false}, "axis": {"orient": "right", "values": [0.1], "format": ".2f", "grid": true, "title": null}}, "text": {"field": "t"}}},
  {"data": {"values": [{"i":31.6,"m":0.134,"t":"DEA:-0.04"}]},
   "mark": {"type": "text", "align": "left", "baseline": "middle", "font": "Liberation Sans", "fontSize": 18, "color": "#7a7a00"},
   "encoding": {"y": {"field": "m", "type": "quantitative", "scale": {"domain": [-0.0676, 0.1515], "nice": false, "zero": false}, "axis": {"orient": "right", "values": [0.1], "format": ".2f", "grid": true, "title": null}}, "text": {"field": "t"}}},
  {"data": {"values": [{"i":45.3,"m":0.134,"t":"MACD:0.00"}]},
   "mark": {"type": "text", "align": "left", "baseline": "middle", "font": "Liberation Sans", "fontSize": 18, "color": "#ff7cff"},
   "encoding": {"y": {"field": "m", "type": "quantitative", "scale": {"domain": [-0.0676, 0.1515], "nice": false, "zero": false}, "axis": {"orient": "right", "values": [0.1], "format": ".2f", "grid": true, "title": null}}, "text": {"field": "t"}}}
 ]
},
{
 "width": 835, "height": 26,
 "encoding": {"x": {"field": "i", "type": "quantitative", "scale": {"domain": [-0.4, 120.6], "nice": false, "zero": false}, "axis": null}},
 "layer": [
  {"data": {"name": "times"},
   "mark": {"type": "rule", "color": "#ffb0b0", "strokeWidth": 1},
   "encoding": {"y": {"datum": 0, "type": "quantitative", "scale": {"domain": [0, 1], "nice": false, "zero": false}, "axis": null}, "y2": {"datum": 1}}},
  {"data": {"values": [{"i":14},{"i":16},{"i":25.5},{"i":35.5},{"i":45.5},{"i":55.5},{"i":64.8},{"i":75},{"i":84.5},{"i":94.6},{"i":104.6},{"i":114.4}]},
   "mark": {"type": "rule", "color": "#ffa0a0", "strokeWidth": 1},
   "encoding": {"y": {"datum": 0.74, "type": "quantitative", "scale": {"domain": [0, 1], "nice": false, "zero": false}, "axis": null}, "y2": {"datum": 1}}},
  {"data": {"name": "times"}, "transform": [{"filter": "datum.t !== '15:00'"}],
   "mark": {"type": "text", "align": "left", "baseline": "middle", "dx": 2, "font": "Liberation Sans, Noto Sans CJK SC", "fontSize": 17, "color": "#ff9c9c"},
   "encoding": {"y": {"datum": 0.45, "type": "quantitative", "scale": {"domain": [0, 1], "nice": false, "zero": false}, "axis": null}, "text": {"field": "t"}}},
  {"data": {"name": "times"}, "transform": [{"filter": "datum.t === '15:00'"}],
   "mark": {"type": "text", "align": "left", "baseline": "middle", "dx": 2, "font": "Liberation Sans", "fontSize": 17, "color": "#ff9c9c", "limit": 25, "ellipsis": "\u200b"},
   "encoding": {"y": {"datum": 0.45, "type": "quantitative", "scale": {"domain": [0, 1], "nice": false, "zero": false}, "axis": null}, "text": {"field": "t"}}},
  {"data": {"values": [{"i":120.75,"i2":129.9}]},
   "mark": {"type": "rect", "fill": "#ffffff", "stroke": "#ffaaaa", "strokeWidth": 1, "clip": false},
   "encoding": {"x2": {"field": "i2"}, "y": {"datum": 0.04, "type": "quantitative", "scale": {"domain": [0, 1], "nice": false, "zero": false}, "axis": null}, "y2": {"datum": 0.96}}},
  {"data": {"values": [{"i":125.3,"t":"1分钟"}]},
   "mark": {"type": "text", "align": "center", "baseline": "middle", "font": "Liberation Sans, Noto Sans CJK SC", "fontSize": 17, "color": "#111111", "clip": false},
   "encoding": {"y": {"datum": 0.5, "type": "quantitative", "scale": {"domain": [0, 1], "nice": false, "zero": false}, "axis": null}, "text": {"field": "t"}}}
 ]
}
]
}
